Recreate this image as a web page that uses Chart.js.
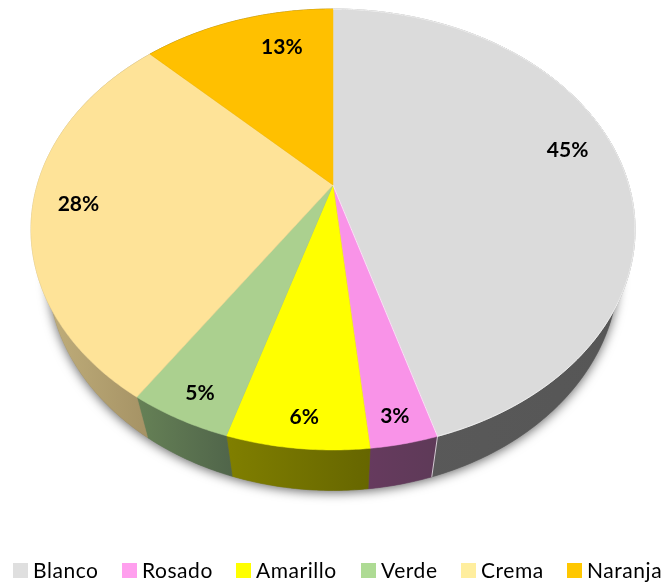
<!DOCTYPE html>
<html>
<head>
<meta charset="utf-8">
<style>html,body{margin:0;padding:0;background:#fff}#w{width:667px;height:584px}</style>
<script src="https://cdn.jsdelivr.net/npm/chart.js@4"></script>
</head>
<body>
<div id="w"><canvas id="c"></canvas></div>
<script>
const categories = ['Blanco','Rosado','Amarillo','Verde','Crema','Naranja'];
const values = [45.4,3.0,6.3,4.6,28.2,12.5];
const percentLabels = ['45%','3%','6%','5%','28%','13%'];
const colors = ['#DBDBDB','#F993E8','#FFFF00','#ABD08F','#FEE398','#FFC000'];
const legendColors = ['#DFDFDF','#FF9FEE','#FFFF00','#AEDB94','#FFEE9E','#FFC700'];
const wallLeft = ['#5A5A5A','#663A5E','#807F00','#668156','#C4B27E','#806000'];
const wallRight = ['#565656','#5E3A58','#666600','#50654A','#A28F62','#806000'];
const labelRadius = [0.84,0.91,0.90,0.90,0.85,0.78];
const labelTurn = [-3.8,0.3,-0.5,-0.55,0,7.7];

// projective view of the pie's circle: tilted disc with apex at (cx,cy)
const view = {cx:333, cy:185, a:295.8, b:211.5, k:0.2018, depth:40.5, shrink:0.945};
function project(ang, r){
  const u = r*Math.cos(ang), v = r*Math.sin(ang), w = 1 - view.k*v;
  return [view.cx + view.a*u/w, view.cy + view.b*v/w];
}
function lower(p){ return [view.cx + (p[0]-view.cx)*view.shrink, p[1] + view.depth]; }
function rim(s,e){
  const n = Math.max(2, Math.ceil((e-s)/0.01)), pts = [];
  for(let i=0;i<=n;i++) pts.push(project(s+(e-s)*i/n,1));
  return pts;
}
function trace(ctx,pts){ pts.forEach((p,i)=> i?ctx.lineTo(p[0],p[1]):ctx.moveTo(p[0],p[1])); }
function trace2(ctx,pts){ pts.forEach(p=>ctx.lineTo(p[0],p[1])); }

const tiltedPie = {
  id:'tiltedPie',
  beforeDatasetsDraw(chart){
    const ctx = chart.ctx, arcs = chart.getDatasetMeta(0).data;
    ctx.save();
    // soft shadow under the disc
    const full = rim(0,Math.PI*2).map(lower);
    ctx.save();
    ctx.shadowColor='rgba(0,0,0,0.6)'; ctx.shadowBlur=11; ctx.shadowOffsetY=2;
    ctx.fillStyle='#777'; ctx.beginPath(); trace(ctx,full); ctx.closePath(); ctx.fill();
    ctx.restore();
    // side walls
    arcs.forEach((arc,i)=>{
      const top = rim(arc.startAngle,arc.endAngle), bot = top.map(lower).reverse();
      const xs = top.concat(bot).map(p=>p[0]);
      const g = ctx.createLinearGradient(Math.min(...xs),0,Math.max(...xs),0);
      g.addColorStop(0,wallLeft[i]); g.addColorStop(1,wallRight[i]);
      ctx.fillStyle=g; ctx.strokeStyle=g; ctx.lineWidth=0.6;
      ctx.beginPath(); trace(ctx,top.concat(bot)); ctx.closePath(); ctx.fill(); ctx.stroke();
    });
    // top surfaces
    arcs.forEach((arc,i)=>{
      ctx.fillStyle=colors[i]; ctx.strokeStyle=colors[i]; ctx.lineWidth=0.5;
      ctx.beginPath(); ctx.moveTo(view.cx,view.cy); trace2(ctx,rim(arc.startAngle,arc.endAngle)); ctx.closePath(); ctx.fill(); ctx.stroke();
    });
    // light edge around the largest slice
    const a0 = arcs[0], pts = rim(a0.startAngle,a0.endAngle);
    ctx.strokeStyle='rgba(255,255,255,0.8)'; ctx.lineWidth=0.9;
    ctx.beginPath(); trace(ctx,[...pts.slice(), [view.cx,view.cy]]); ctx.stroke();
    const e = pts[pts.length-1];
    ctx.beginPath(); ctx.moveTo(e[0],e[1]); const l=lower(e); ctx.lineTo(l[0],l[1]); ctx.stroke();
    // percentage labels
    ctx.fillStyle='#000'; ctx.font='bold 21px Lato'; ctx.textAlign='center'; ctx.textBaseline='middle';
    arcs.forEach((arc,i)=>{
      const mid=(arc.startAngle+arc.endAngle)/2 + labelTurn[i]*Math.PI/180;
      const p=project(mid,labelRadius[i]);
      ctx.fillText(percentLabels[i],p[0],p[1]+1);
    });
    ctx.restore();
    return false;
  },
  afterDraw(chart){
    // single-row legend across the bottom
    const ctx = chart.ctx;
    ctx.save();
    ctx.font='21px Lato'; ctx.letterSpacing='0.55px'; ctx.textAlign='left'; ctx.textBaseline='alphabetic';
    let x = 12.6;
    categories.forEach((name,i)=>{
      ctx.fillStyle=legendColors[i]; ctx.fillRect(Math.round(x),563,15,15);
      ctx.fillStyle='#000'; ctx.fillText(name,Math.round(x)+20,578);
      x += 20 + ctx.measureText(name).width + 23.6;
    });
    ctx.restore();
  }
};

new Chart(document.getElementById('c'),{
  type:'pie',
  data:{labels:categories,datasets:[{data:values,backgroundColor:colors,borderWidth:0}]},
  options:{
    responsive:true, maintainAspectRatio:false, animation:false,
    plugins:{ tooltip:{enabled:false}, title:{display:false}, legend:{display:false} }
  },
  plugins:[tiltedPie]
});
</script>
</body>
</html>
